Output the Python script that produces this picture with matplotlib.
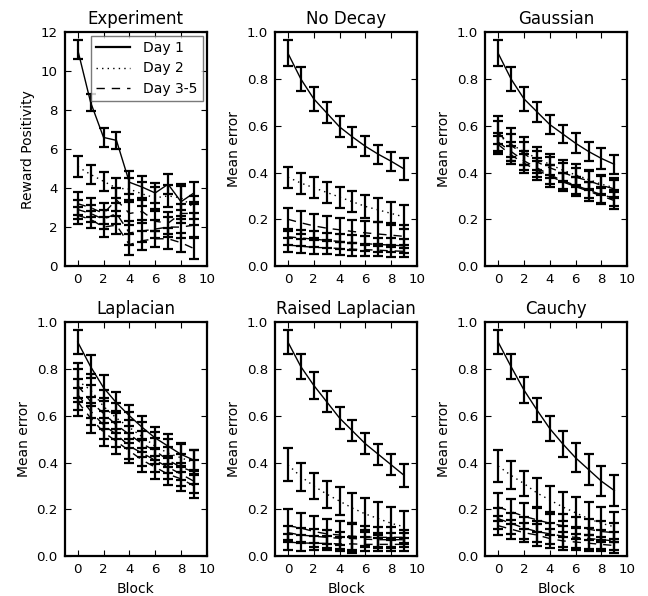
import numpy as np
import matplotlib
matplotlib.use("Agg")
import matplotlib.pyplot as plt

blocks = np.arange(10)
titles = ["Experiment", "No Decay", "Gaussian", "Laplacian", "Raised Laplacian", "Cauchy"]

# Experiment (reward positivity)
exp_day1 = [11.1, 8.4, 6.6, 6.45, 4.3, 4.05, 3.75, 4.2, 3.3, 3.75]
exp_day1_err = [0.5, 0.45, 0.47, 0.45, 0.6, 0.55, 0.5, 0.5, 0.9, 0.55]
exp_day2 = [5.1, 4.7, 4.35, 4.0, 3.95, 3.7, 3.5, 3.6, 3.5, 3.0]
exp_day2_err = [0.55, 0.5, 0.5, 0.5, 0.55, 0.6, 0.55, 0.55, 0.6, 0.6]
exp_day35 = [[3.2, 3.0, 2.7, 3.4, 2.7, 2.8, 2.3, 2.2, 2.7, 2.7],
             [2.9, 2.7, 2.4, 2.7, 1.7, 1.8, 1.9, 2.0, 2.0, 2.1],
             [2.6, 2.4, 2.0, 2.1, 1.1, 1.3, 1.4, 1.4, 1.2, 0.9]]
exp_day35_err = [[0.6, 0.5, 0.55, 0.6, 0.6, 0.6, 0.5, 0.55, 0.5, 0.6],
                 [0.5, 0.45, 0.5, 0.55, 0.6, 0.55, 0.45, 0.5, 0.55, 0.6],
                 [0.45, 0.45, 0.5, 0.45, 0.55, 0.5, 0.4, 0.55, 0.5, 0.55]]

# No Decay
nod_day1 = [0.91, 0.80, 0.715, 0.655, 0.595, 0.552, 0.512, 0.478, 0.448, 0.415]
nod_day1_err = [0.055, 0.05, 0.05, 0.045, 0.045, 0.043, 0.043, 0.04, 0.04, 0.045]
nod_day2 = [0.38, 0.355, 0.335, 0.315, 0.295, 0.275, 0.255, 0.24, 0.225, 0.21]
nod_day2_err = [0.045, 0.045, 0.045, 0.045, 0.045, 0.045, 0.05, 0.05, 0.05, 0.05]
nod_day35 = [[0.20, 0.185, 0.172, 0.162, 0.155, 0.148, 0.142, 0.137, 0.132, 0.127],
             [0.125, 0.12, 0.115, 0.11, 0.105, 0.10, 0.096, 0.092, 0.09, 0.086],
             [0.09, 0.085, 0.08, 0.078, 0.075, 0.072, 0.07, 0.068, 0.065, 0.063]]
nod_day35_err = [[0.048, 0.05, 0.05, 0.05, 0.05, 0.05, 0.05, 0.05, 0.05, 0.05],
                 [0.035, 0.035, 0.035, 0.033, 0.033, 0.032, 0.032, 0.03, 0.03, 0.03],
                 [0.03, 0.03, 0.03, 0.028, 0.028, 0.027, 0.026, 0.025, 0.025, 0.025]]

# Gaussian
gau_day1 = [0.91, 0.80, 0.715, 0.66, 0.605, 0.565, 0.525, 0.49, 0.46, 0.435]
gau_day1_err = [0.055, 0.053, 0.05, 0.042, 0.042, 0.04, 0.042, 0.04, 0.045, 0.042]
gau_day2 = [0.56, 0.52, 0.49, 0.46, 0.435, 0.41, 0.39, 0.37, 0.35, 0.335]
gau_day2_err = [0.08, 0.07, 0.06, 0.05, 0.045, 0.045, 0.045, 0.04, 0.04, 0.04]
gau_day35 = [[0.57, 0.515, 0.48, 0.445, 0.42, 0.40, 0.38, 0.365, 0.345, 0.33],
             [0.53, 0.49, 0.45, 0.42, 0.39, 0.365, 0.345, 0.325, 0.305, 0.29],
             [0.52, 0.475, 0.44, 0.41, 0.385, 0.36, 0.34, 0.32, 0.30, 0.28]]
gau_day35_err = [[0.05, 0.05, 0.05, 0.045, 0.045, 0.04, 0.04, 0.04, 0.04, 0.04],
                 [0.04, 0.04, 0.04, 0.04, 0.04, 0.035, 0.035, 0.035, 0.035, 0.035],
                 [0.035, 0.04, 0.04, 0.04, 0.045, 0.04, 0.04, 0.04, 0.035, 0.035]]

# Laplacian
lap_day1 = [0.915, 0.81, 0.72, 0.655, 0.60, 0.55, 0.505, 0.47, 0.435, 0.41]
lap_day1_err = [0.05, 0.05, 0.055, 0.045, 0.045, 0.05, 0.048, 0.05, 0.05, 0.045]
lap_day2 = [0.75, 0.71, 0.64, 0.59, 0.55, 0.51, 0.47, 0.44, 0.42, 0.40]
lap_day2_err = [0.075, 0.07, 0.07, 0.065, 0.065, 0.065, 0.06, 0.06, 0.06, 0.055]
lap_day35 = [[0.73, 0.66, 0.61, 0.56, 0.52, 0.48, 0.45, 0.41, 0.38, 0.36],
             [0.69, 0.62, 0.56, 0.52, 0.47, 0.44, 0.41, 0.38, 0.35, 0.32],
             [0.66, 0.59, 0.53, 0.49, 0.45, 0.41, 0.38, 0.35, 0.33, 0.30]]
lap_day35_err = [[0.07, 0.07, 0.065, 0.06, 0.06, 0.055, 0.055, 0.055, 0.055, 0.05],
                 [0.065, 0.06, 0.06, 0.055, 0.055, 0.055, 0.05, 0.05, 0.05, 0.05],
                 [0.06, 0.065, 0.06, 0.055, 0.05, 0.05, 0.05, 0.045, 0.05, 0.05]]

# Raised Laplacian
rl_day1 = [0.915, 0.81, 0.73, 0.66, 0.59, 0.535, 0.48, 0.435, 0.39, 0.345]
rl_day1_err = [0.05, 0.055, 0.057, 0.045, 0.048, 0.045, 0.045, 0.045, 0.045, 0.048]
rl_day2 = [0.39, 0.34, 0.30, 0.265, 0.235, 0.205, 0.18, 0.16, 0.14, 0.125]
rl_day2_err = [0.07, 0.06, 0.055, 0.058, 0.06, 0.065, 0.07, 0.07, 0.07, 0.068]
rl_day35 = [[0.13, 0.12, 0.105, 0.095, 0.09, 0.085, 0.082, 0.08, 0.08, 0.08],
            [0.10, 0.09, 0.085, 0.08, 0.076, 0.075, 0.072, 0.07, 0.07, 0.07],
            [0.06, 0.056, 0.055, 0.054, 0.052, 0.052, 0.05, 0.05, 0.05, 0.05]]
rl_day35_err = [[0.07, 0.065, 0.065, 0.062, 0.058, 0.058, 0.045, 0.045, 0.045, 0.03],
                [0.03, 0.03, 0.03, 0.03, 0.028, 0.06, 0.03, 0.03, 0.03, 0.03],
                [0.035, 0.033, 0.03, 0.03, 0.03, 0.03, 0.03, 0.028, 0.028, 0.028]]

# Cauchy
cau_day1 = [0.915, 0.81, 0.71, 0.625, 0.545, 0.48, 0.42, 0.37, 0.32, 0.28]
cau_day1_err = [0.05, 0.055, 0.057, 0.05, 0.052, 0.055, 0.062, 0.065, 0.065, 0.068]
cau_day2 = [0.385, 0.345, 0.31, 0.27, 0.24, 0.21, 0.185, 0.16, 0.14, 0.125]
cau_day2_err = [0.07, 0.06, 0.055, 0.062, 0.06, 0.062, 0.067, 0.07, 0.07, 0.065]
cau_day35 = [[0.21, 0.19, 0.17, 0.155, 0.14, 0.13, 0.12, 0.115, 0.105, 0.10],
             [0.16, 0.14, 0.12, 0.105, 0.095, 0.085, 0.08, 0.075, 0.07, 0.065],
             [0.13, 0.115, 0.10, 0.09, 0.075, 0.065, 0.06, 0.055, 0.05, 0.045]]
cau_day35_err = [[0.06, 0.055, 0.055, 0.05, 0.05, 0.05, 0.045, 0.045, 0.045, 0.04],
                 [0.045, 0.045, 0.045, 0.045, 0.045, 0.045, 0.045, 0.045, 0.04, 0.04],
                 [0.04, 0.04, 0.04, 0.045, 0.04, 0.04, 0.035, 0.035, 0.03, 0.03]]

panels = [
    (exp_day1, exp_day1_err, exp_day2, exp_day2_err, exp_day35, exp_day35_err),
    (nod_day1, nod_day1_err, nod_day2, nod_day2_err, nod_day35, nod_day35_err),
    (gau_day1, gau_day1_err, gau_day2, gau_day2_err, gau_day35, gau_day35_err),
    (lap_day1, lap_day1_err, lap_day2, lap_day2_err, lap_day35, lap_day35_err),
    (rl_day1, rl_day1_err, rl_day2, rl_day2_err, rl_day35, rl_day35_err),
    (cau_day1, cau_day1_err, cau_day2, cau_day2_err, cau_day35, cau_day35_err),
]

plt.rcParams["font.family"] = "DejaVu Sans"
plt.rcParams["lines.dashed_pattern"] = [6, 5]
plt.rcParams["lines.dotted_pattern"] = [1, 3]

fig, axes = plt.subplots(2, 3, figsize=(6.48, 5.96), dpi=100)
fig.subplots_adjust(left=0.100, right=0.968, bottom=0.067, top=0.946,
                    wspace=0.48, hspace=0.24)

eb = dict(color="k", elinewidth=1.6, capsize=3.4, capthick=1.6, linewidth=1.0)

for i, ax in enumerate(axes.flat):
    d1, d1e, d2, d2e, d35, d35e = panels[i]
    ax.errorbar(blocks, d1, yerr=d1e, linestyle="-", label="Day 1", **eb)
    ax.errorbar(blocks, d2, yerr=d2e, linestyle=":", label="Day 2", **eb)
    for j in range(3):
        ax.errorbar(blocks, d35[j], yerr=d35e[j], linestyle="--",
                    label="Day 3-5" if j == 0 else None, **eb)

    ax.set_title(titles[i], fontsize=12)
    ax.set_xlim(-1, 10)
    ax.set_xticks([0, 2, 4, 6, 8, 10])
    if i == 0:
        ax.set_ylim(0, 12)
        ax.set_yticks([0, 2, 4, 6, 8, 10, 12])
        ax.set_ylabel("Reward Positivity", fontsize=10)
    else:
        ax.set_ylim(0, 1)
        ax.set_yticks([0.0, 0.2, 0.4, 0.6, 0.8, 1.0])
        ax.set_yticklabels(["0.0", "0.2", "0.4", "0.6", "0.8", "1.0"])
        ax.set_ylabel("Mean error", fontsize=10)
    if i >= 3:
        ax.set_xlabel("Block", fontsize=10)

    ax.tick_params(direction="in", top=True, right=True, length=4, width=0.8,
                   labelsize=9.6, pad=5)
    for s in ax.spines.values():
        s.set_linewidth(1.6)

    if i == 0:
        h, l = ax.get_legend_handles_labels()
        h = [x[0] for x in h]
        leg = ax.legend(h, l, loc="upper right", fontsize=10, fancybox=False,
                        handlelength=2.4, borderaxespad=0.25, labelspacing=0.45,
                        handletextpad=1.0)
        leg.get_frame().set_edgecolor("0.35")
        leg.get_frame().set_linewidth(1.0)
        leg.get_lines()[0].set_linewidth(1.6)

fig.savefig("out.png", dpi=100, facecolor="white")
